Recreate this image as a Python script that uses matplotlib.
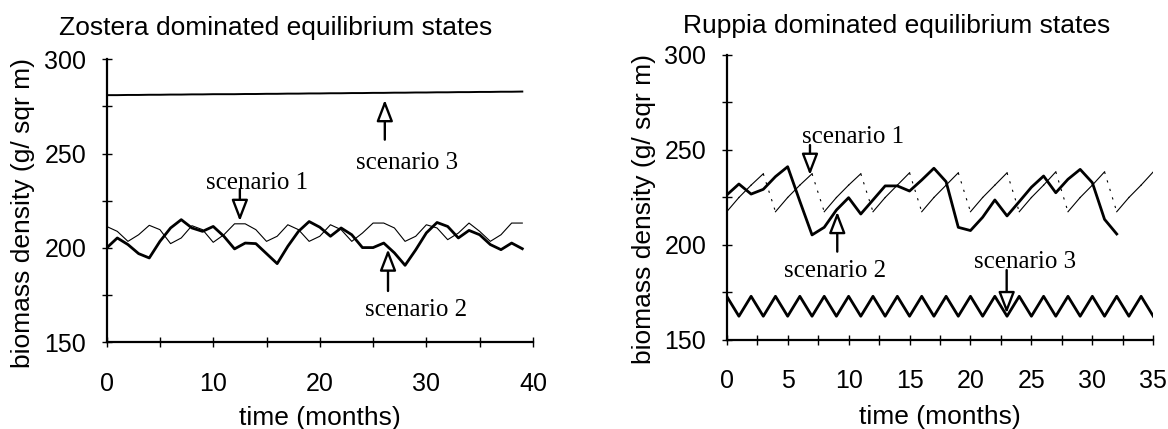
import matplotlib
matplotlib.use('Agg')
import matplotlib.pyplot as plt
from matplotlib.ticker import MultipleLocator

# ── data ──────────────────────────────────────────────────────────
months_z = list(range(40))
zostera_s1 = [211.4, 208.8, 203.5, 207.0, 212.0, 209.7, 202.3, 205.3, 211.8, 209.7,
              203.0, 207.0, 212.8, 212.8, 209.7, 203.5, 206.2, 212.3, 209.7, 203.5,
              206.2, 212.3, 209.7, 203.5, 207.9, 213.2, 213.2, 210.6, 203.5, 206.2,
              212.3, 210.6, 204.4, 207.9, 213.2, 208.8, 203.5, 207.0, 213.2, 213.2]
zostera_s2 = [200.0, 205.3, 201.8, 197.0, 194.7, 203.5, 210.6, 215.0, 210.6, 208.8,
              211.4, 206.2, 199.5, 202.6, 202.3, 197.0, 191.7, 200.9, 208.8, 214.0,
              211.0, 206.2, 210.6, 207.0, 200.2, 200.2, 202.6, 197.4, 190.8, 199.0,
              208.0, 213.5, 211.4, 205.3, 209.3, 207.0, 201.8, 199.1, 202.6, 199.6]
zostera_s3 = [281.0, 281.0, 281.1, 281.1, 281.2, 281.2, 281.3, 281.3, 281.4, 281.4,
              281.5, 281.5, 281.5, 281.6, 281.6, 281.7, 281.7, 281.8, 281.8, 281.9,
              281.9, 282.0, 282.0, 282.1, 282.1, 282.2, 282.2, 282.3, 282.3, 282.4,
              282.4, 282.5, 282.5, 282.6, 282.6, 282.7, 282.7, 282.8, 282.8, 282.9]

months_r = list(range(36))
ruppia_s1 = [217.5, 225.0, 231.5, 237.5, 217.5, 225.0, 231.5, 237.5, 217.5, 225.0,
             231.5, 237.5, 217.5, 225.0, 231.5, 238.0, 217.5, 225.0, 231.5, 238.0,
             217.5, 225.0, 231.5, 238.0, 217.5, 225.0, 231.5, 238.5, 217.5, 225.0,
             231.5, 238.5, 217.5, 225.0, 231.5, 238.5]
months_r2 = list(range(33))
ruppia_s2 = [226.3, 232.1, 226.8, 229.3, 236.0, 241.2, 223.0, 205.3, 209.3, 218.4,
             224.9, 216.3, 223.7, 231.1, 231.1, 228.4, 234.2, 240.4, 233.3, 209.3,
             207.6, 214.6, 223.7, 215.3, 222.8, 230.4, 236.3, 227.5, 234.6, 239.8,
             232.8, 213.5, 205.8]
ruppia_s3 = [173.0, 162.5, 173.0, 162.5, 173.0, 162.5, 173.0, 162.5, 173.0, 162.5,
             173.0, 162.5, 173.0, 162.5, 173.0, 162.5, 173.0, 162.5, 173.0, 162.5,
             173.0, 162.5, 173.0, 162.5, 173.0, 162.5, 173.0, 162.5, 173.0, 162.5,
             173.0, 162.5, 173.0, 162.5, 173.0, 162.5]

SANS = 'Liberation Sans'
SERIF = 'Liberation Serif'

plt.rcParams.update({
    'font.family': SANS,
    'font.size': 18,
})

fig = plt.figure(figsize=(11.68, 4.29), dpi=100, facecolor='white')
ax1 = fig.add_axes([0.0913, 0.2021, 0.3650, 0.6597])
ax2 = fig.add_axes([0.6222, 0.2075, 0.3652, 0.6643])


def style_axes(ax, xmax, xmajor, xminor, label_y):
    ax.set_xlim(0, xmax)
    ax.set_ylim(150, 300)
    for side in ('top', 'right'):
        ax.spines[side].set_visible(False)
    for side in ('left', 'bottom'):
        ax.spines[side].set_linewidth(1.6)
    ax.xaxis.set_major_locator(MultipleLocator(xmajor))
    ax.xaxis.set_minor_locator(MultipleLocator(xminor))
    ax.yaxis.set_major_locator(MultipleLocator(50))
    ax.yaxis.set_minor_locator(MultipleLocator(25))
    ax.tick_params(which='both', direction='inout', length=6.5, width=1.0)
    ax.tick_params(axis='x', which='major', pad=18, labelsize=18)
    ax.tick_params(axis='y', which='major', pad=11.5, labelsize=18)
    ax.set_xlabel('time (months)', fontsize=19)
    ax.set_ylabel('biomass density (g/ sqr m)', fontsize=19)
    ax.xaxis.set_label_coords(0.5, label_y)


def arrow(ax, tip, tail):
    ax.annotate('', xy=tip, xytext=tail,
                arrowprops=dict(arrowstyle='-|>,head_length=1.3,head_width=0.5',
                                mutation_scale=10, fc='white', ec='black', lw=1.7,
                                shrinkA=0, shrinkB=0))


def label(ax, x, y, s):
    ax.text(x, y, s, family=SERIF, fontsize=18, ha='center', va='baseline')


# ── Zostera ───────────────────────────────────────────────────────
ax = ax1
ax.plot(months_z, zostera_s3, color='black', lw=1.4)
ax.plot(months_z, zostera_s1, color='black', lw=0.8)
ax.plot(months_z, zostera_s2, color='black', lw=2.0)
style_axes(ax, 40, 10, 5, -0.225)
ax.yaxis.set_label_coords(-0.168, 0.458)

arrow(ax, (26.1, 278.5), (26.1, 257.4))
label(ax, 28.2, 242, 'scenario 3')
arrow(ax, (12.5, 214.2), (12.5, 231))
label(ax, 14.1, 231.5, 'scenario 1')
arrow(ax, (26.4, 199.3), (26.4, 177.2))
label(ax, 29.05, 164, 'scenario 2')

# ── Ruppia ────────────────────────────────────────────────────────
ax = ax2
# scenario 1 is a sawtooth: rising parts solid, drops broken
for i in range(len(months_r) - 1):
    v0, v1 = ruppia_s1[i], ruppia_s1[i + 1]
    ls = '-' if v1 >= v0 else (0, (2, 6))
    ax.plot(months_r[i:i + 2], ruppia_s1[i:i + 2], color='black', lw=0.8, ls=ls)
ax.plot(months_r2, ruppia_s2, color='black', lw=2.0)
ax.plot(months_r, ruppia_s3, color='black', lw=2.0)
style_axes(ax, 35, 5, 2.5, -0.228)
ax.yaxis.set_label_coords(-0.166, 0.461)

arrow(ax, (6.83, 236.8), (6.83, 252.6))
label(ax, 10.4, 253.7, 'scenario 1')
arrow(ax, (9.07, 217.5), (9.07, 196.5))
label(ax, 8.9, 183.3, 'scenario 2')
arrow(ax, (22.97, 164.0), (22.97, 186.8))
label(ax, 24.5, 187.7, 'scenario 3')

# ── titles ────────────────────────────────────────────────────────
fig.text(0.2363, 0.918, 'Zostera dominated equilibrium states',
         ha='center', va='baseline', fontsize=19)
fig.text(0.7676, 0.922, 'Ruppia dominated equilibrium states',
         ha='center', va='baseline', fontsize=19)

fig.savefig('out.png', dpi=100, facecolor='white')
